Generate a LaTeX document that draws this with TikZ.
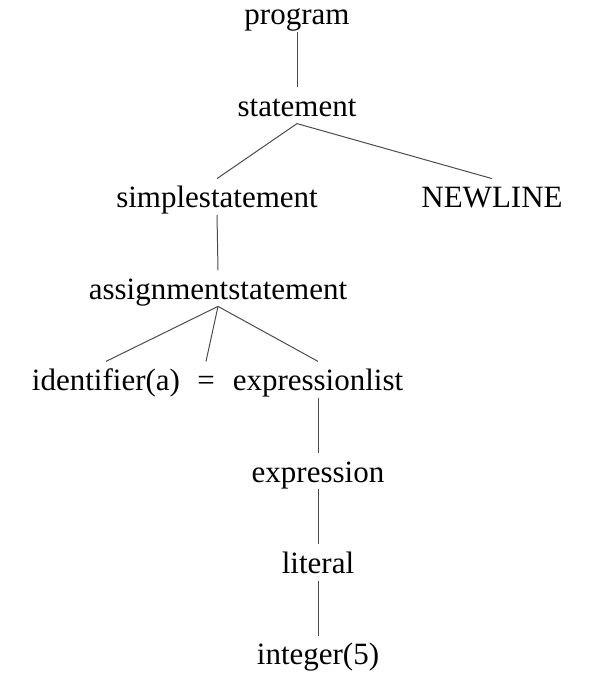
\documentclass[tikz,border=0pt]{standalone}
\usepackage{fontspec}
\setmainfont{Liberation Serif}
\usetikzlibrary{positioning}

\begin{document}
\begin{tikzpicture}[x=1pt, y=1pt, node distance=55pt,
  sym/.style={inner sep=0pt, text height=29pt, text depth=7pt, font=\fontsize{31}{36}\selectfont},
  branch/.style={line width=1pt, black!70}]
\useasboundingbox (0,0) rectangle (601,-682);
\node[sym, anchor=base] (program) at (297,-25) {program};
\node[sym] (statement) [below=of program] {statement};
\node[sym] (simplestatement) [below=of statement, xshift=-80pt] {simplestatement};
\node[sym] (newline) [below=of statement, xshift=195pt] {NEWLINE};
\node[sym] (assignmentstatement) [below=of simplestatement, xshift=1pt] {assignmentstatement};
\node[sym] (identifier) [below=of assignmentstatement, xshift=-112pt] {identifier(a)};
\node[sym] (equals) [below=of assignmentstatement, xshift=-12pt] {=};
\node[sym] (expressionlist) [below=of assignmentstatement, xshift=100pt] {expressionlist};
\node[sym] (expression) [below=of expressionlist] {expression};
\node[sym] (literal) [below=of expression] {literal};
\node[sym] (integer) [below=of literal] {integer(5)};

\path[branch]
		(program.south) edge (statement.north)
		(statement.south) edge (simplestatement.north)
		(statement.south) edge (newline.north)
		(simplestatement.south) edge (assignmentstatement.north)
		(assignmentstatement.south) edge (identifier.north)
		(assignmentstatement.south) edge (equals.north)
		(assignmentstatement.south) edge (expressionlist.north)
		(expressionlist.south) edge (expression.north)
		(expression.south) edge (literal.north)
		(literal.south) edge (integer.north);

\end{tikzpicture}
\end{document}
